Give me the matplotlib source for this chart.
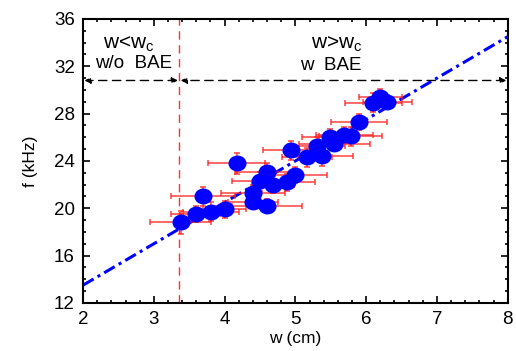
import numpy as np
import matplotlib.pyplot as plt
from matplotlib.path import Path
from matplotlib.transforms import Affine2D
from matplotlib.ticker import MultipleLocator

plt.rcParams['font.family'] = ['Liberation Sans', 'DejaVu Sans']

# measured points
w = [3.38, 3.59, 3.69, 3.81, 4.00, 4.17, 4.40, 4.40, 4.50, 4.60, 4.60, 4.68, 4.88,
     4.94, 5.00, 5.16, 5.30, 5.37, 5.49, 5.55, 5.69, 5.78, 5.90, 6.10, 6.20, 6.30]
f = [18.8, 19.5, 21.0, 19.7, 19.9, 23.8, 21.3, 20.5, 22.3, 23.1, 20.2, 22.0, 22.2,
     24.9, 22.8, 24.3, 25.3, 24.4, 26.0, 25.4, 26.2, 26.1, 27.3, 28.9, 29.4, 29.0]
w_err = [0.43, 0.35, 0.45, 0.40, 0.30, 0.40, 0.45, 0.35, 0.40, 0.45, 0.50, 0.30, 0.40,
         0.40, 0.45, 0.35, 0.40, 0.45, 0.40, 0.50, 0.40, 0.45, 0.40, 0.40, 0.30, 0.35]
f_err = [1.0, 0.7, 0.8, 0.8, 0.7, 0.9, 0.7, 0.6, 0.8, 0.7, 0.6, 0.7, 0.7,
         0.8, 0.7, 0.8, 0.7, 0.8, 0.7, 0.6, 0.7, 0.8, 0.7, 0.8, 0.7, 0.6]

# linear fit f = a*w + b
fit_a, fit_b = 3.5, 6.5
w_c = 3.36
f_arrow = 30.8

# slightly flattened circle, like the original markers
ellipse = Path.unit_circle().transformed(Affine2D().scale(1.0, 0.87))

fig = plt.figure(figsize=(5.16, 3.51), dpi=100)
ax = fig.add_axes([0.161, 0.137, 0.823, 0.809])

xf = np.array([2, 8])
ax.plot(xf, fit_a * xf + fit_b, color='blue', ls=(0, (4, 1.5, 1, 1.5)), lw=2.2, zorder=2)

ax.errorbar(w, f, xerr=w_err, yerr=f_err, fmt='none', ecolor='#ff2020',
            elinewidth=1.1, capsize=2.5, capthick=1.1, alpha=0.85, zorder=3)
ax.plot(w, f, ls='none', marker=ellipse, color='blue', ms=12, mec='blue', zorder=4)

ax.axvline(w_c, color='#ff3030', ls=(0, (6, 4)), lw=1.0, zorder=1)

arr = dict(arrowstyle='<|-|>', color='black', ls=(0, (6, 4)), lw=1.0,
           mutation_scale=9, shrinkA=0, shrinkB=0)
ax.annotate('', xy=(2.02, f_arrow), xytext=(w_c - 0.02, f_arrow), arrowprops=arr)
ax.annotate('', xy=(w_c + 0.02, f_arrow), xytext=(7.98, f_arrow), arrowprops=arr)

ax.text(2.65, 33.9, r'w<w$_{\mathregular{c}}$', fontsize=15, ha='center', va='center')
ax.text(2.72, 32.2, 'w/o  BAE', fontsize=13.5, ha='center', va='center')
ax.text(5.58, 33.9, r'w>w$_{\mathregular{c}}$', fontsize=15, ha='center', va='center')
ax.text(5.5, 32.1, 'w  BAE', fontsize=13.5, ha='center', va='center')

ax.set_xlim(2, 8)
ax.set_ylim(12, 36)
ax.xaxis.set_major_locator(MultipleLocator(1))
ax.xaxis.set_minor_locator(MultipleLocator(0.2))
ax.yaxis.set_major_locator(MultipleLocator(4))
ax.yaxis.set_minor_locator(MultipleLocator(1))
ax.tick_params(which='both', direction='in', top=True, right=True, labelsize=13.5, width=1.2)
ax.tick_params(which='major', length=5, pad=6)
ax.tick_params(which='minor', length=2.5)
for s in ax.spines.values():
    s.set_linewidth(1.5)

ax.set_xlabel('w (cm)', fontsize=12.5, labelpad=2)
ax.set_ylabel('f (kHz)', fontsize=12.5, labelpad=11)

fig.savefig('out.png', dpi=100)
